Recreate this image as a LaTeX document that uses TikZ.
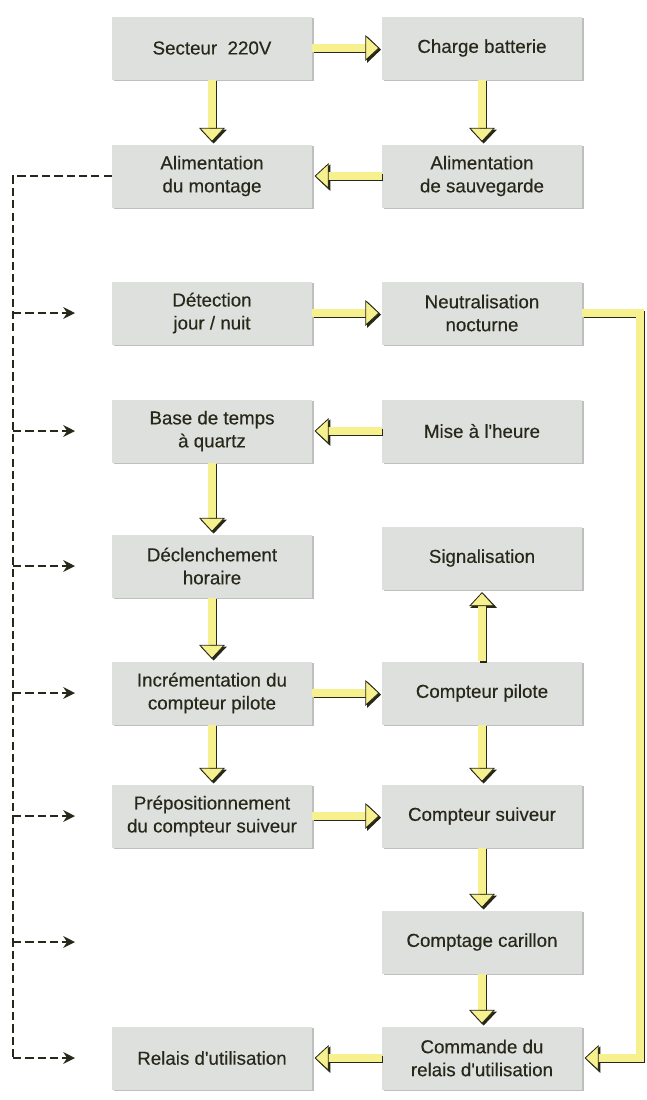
\documentclass[tikz,border=0pt]{standalone}
\usepackage{fontspec}
\setmainfont{Liberation Sans}
\newfontfamily\blockfont[FakeBold=0.35]{Liberation Sans}
\usetikzlibrary{arrows.meta,shadows}

\definecolor{boxgray}{RGB}{222,224,222}
\definecolor{flowyellow}{RGB}{246,241,142}
\definecolor{inkdark}{RGB}{40,40,26}

\tikzset{
  block/.style={fill=boxgray,minimum width=60mm,minimum height=18.9mm,align=center,
    text=inkdark,font=\blockfont\fontsize{16}{19.6}\selectfont,
    drop shadow={shadow xshift=1.3pt,shadow yshift=-1.6pt,fill=black!50,opacity=.5}},
  flow/.style={draw=flowyellow,line width=6.5pt,shorten >=2pt,
    -{Triangle[length=12pt,width=22pt,line width=0.7pt,color=inkdark,fill=flowyellow]}},
  flowshade/.style={draw=inkdark,line width=6.5pt,shorten >=2pt,
    -{Triangle[length=12pt,width=22pt]}},
  bus/.style={draw=inkdark,line width=2.2pt,dash pattern=on 7pt off 3.5pt},
  busarrow/.style={bus,-{Stealth[length=10pt,width=10pt]}}
}
\def\flowpairs{sect/chrg,sect/mont,chrg/sauv,sauv/mont,det/neut,heur/quar,
  quar/decl,decl/incr,incr/pilo,pilo/sign,pilo/suiv,incr/prep,prep/suiv,
  suiv/cari,cari/cmde,cmde/rela}

\begin{document}
\begin{tikzpicture}[x=0.3mm,y=-0.3mm]
  \fill[white] (0,0) rectangle (647,1100);
  \useasboundingbox (0,0) rectangle (647,1100);

  % alimentation
  \node[block] (sect) at (212,48) {Secteur\ \ 220V};
  \node[block] (chrg) at (482,48) {Charge batterie};
  \node[block] (mont) at (212,176) {Alimentation\\du montage};
  \node[block] (sauv) at (482,176) {Alimentation\\de sauvegarde};
  % horloge
  \node[block] (det) at (212,313) {Détection\\jour / nuit};
  \node[block] (neut) at (482,313) {Neutralisation\\nocturne};
  \node[block] (quar) at (212,431) {Base de temps\\à quartz};
  \node[block] (heur) at (482,431) {Mise à l'heure};
  \node[block] (decl) at (212,566) {Déclenchement\\horaire};
  \node[block] (sign) at (482,558) {Signalisation};
  % compteurs
  \node[block] (incr) at (212,693) {Incrémentation du\\compteur pilote};
  \node[block] (pilo) at (482,693) {Compteur pilote};
  \node[block] (prep) at (212,816) {Prépositionnement\\du compteur suiveur};
  \node[block] (suiv) at (482,816) {Compteur suiveur};
  \node[block] (cari) at (482,942) {Comptage carillon};
  % sortie
  \node[block] (rela) at (212,1058) {Relais d'utilisation};
  \node[block] (cmde) at (482,1058) {Commande du\\relais d'utilisation};

  \coordinate (rail) at (640,313);
  % ombre des fleches jaunes
  \begin{scope}[transform canvas={xshift=1.4pt,yshift=-1.4pt}]
    \foreach \a/\b in \flowpairs
      \draw[flowshade] (\a) -- (\b);
    \draw[flowshade,line join=miter] (neut.east) -- (rail) |- (cmde.east);
  \end{scope}
  % fleches jaunes
  \foreach \a/\b in \flowpairs
    \draw[flow] (\a) -- (\b);
  % neutralisation -> commande
  \draw[flow,line join=miter] (neut.east) -- (rail) |- (cmde.east);

  % distribution de l'alimentation (pointilles)
  \coordinate (top) at (13,176);
  \foreach \n/\y in {det/313,quar/431,decl/566,incr/693,prep/816,cari/942,rela/1058}{
    \coordinate (tap-\n) at (13,\y);
    \coordinate (tip-\n) at (75,\y);
    \draw[busarrow] (tap-\n) -- (tip-\n);
  }
  \draw[bus] (mont.west) -- (top) -- (tap-rela);
\end{tikzpicture}
\end{document}
